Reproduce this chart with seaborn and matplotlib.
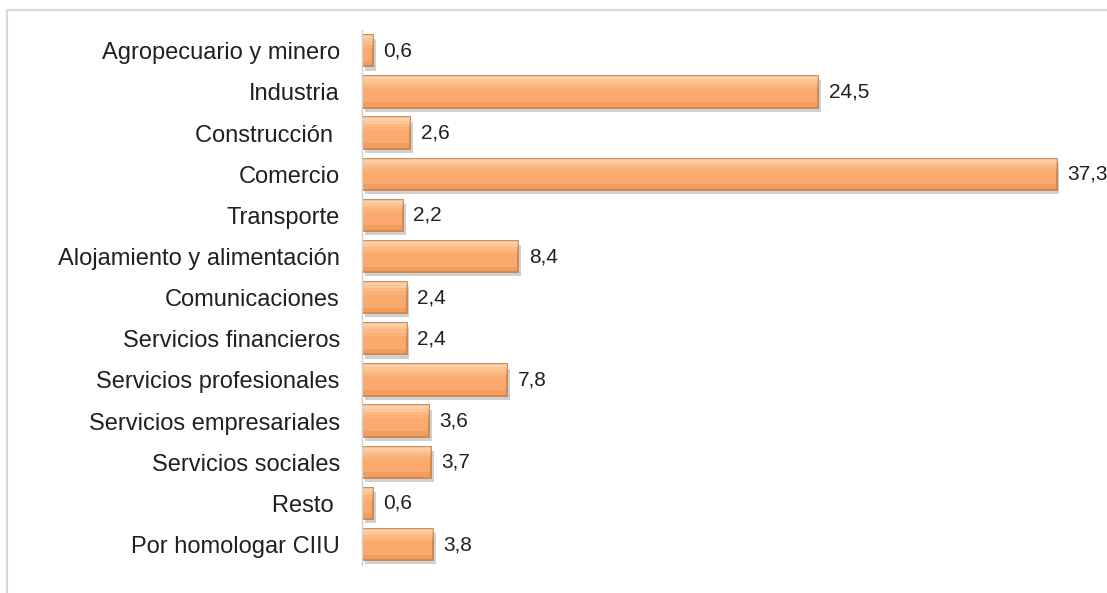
import matplotlib
matplotlib.use('Agg')
import matplotlib.pyplot as plt
import matplotlib.patheffects as pe
from matplotlib.patches import Rectangle
import seaborn as sns
import pandas as pd

# Datos
sectores = ['Agropecuario y minero', 'Industria', 'Construcción ', 'Comercio', 'Transporte',
            'Alojamiento y alimentación', 'Comunicaciones', 'Servicios financieros',
            'Servicios profesionales', 'Servicios empresariales', 'Servicios sociales',
            'Resto ', 'Por homologar CIIU']
valores = [0.6, 24.5, 2.6, 37.3, 2.2, 8.4, 2.4, 2.4, 7.8, 3.6, 3.7, 0.6, 3.8]

df = pd.DataFrame({'sector': sectores, 'valor': valores})

sns.set_style('white')
plt.rcParams['font.family'] = ['Liberation Sans', 'DejaVu Sans']

fig = plt.figure(figsize=(11.07, 5.93), dpi=100)
ax = fig.add_axes([0.327, 0.047, 0.673, 0.902])

sns.barplot(data=df, x='valor', y='sector', orient='h', color='#FBA96C',
            saturation=1, width=0.76, edgecolor='#C98550', linewidth=1.3, ax=ax)

# sombra suave + brillo degradado tipo Excel
for p in list(ax.patches):
    p.set_path_effects([pe.SimplePatchShadow(offset=(2, -3), shadow_rgbFace='#8a8a8a', alpha=0.4),
                        pe.Normal()])
    x0, y0 = p.get_x(), p.get_y()
    w, h = p.get_width(), p.get_height()
    z = p.get_zorder() + 0.1
    # bandas superiores más claras (degradado)
    for k, a in enumerate([0.7, 0.5, 0.3, 0.15]):
        ax.add_patch(Rectangle((x0, y0 + k * h * 0.1), w, h * 0.1, facecolor='#FFE0BE',
                               edgecolor='none', alpha=a, zorder=z))
    # banda inferior más oscura
    ax.add_patch(Rectangle((x0, y0 + h * 0.82), w, h * 0.18, facecolor='#E0894A',
                           edgecolor='none', alpha=0.35, zorder=z))

for i, v in enumerate(valores):
    ax.text(v + 0.55, i, f'{v:.1f}'.replace('.', ','), va='center', ha='left',
            fontsize=15, color='#202020')

ax.set_xlim(0, 40)
ax.set_ylim(12.5, -0.5)
ax.set_xlabel('')
ax.set_ylabel('')
ax.set_xticks([])
ax.tick_params(axis='y', length=0, pad=16, labelsize=17, labelcolor='#202020')
for s in ['top', 'right', 'bottom']:
    ax.spines[s].set_visible(False)
ax.spines['left'].set_color('#d0d0d0')
ax.spines['left'].set_linewidth(1)

# marco exterior del gráfico
fig.add_artist(plt.Line2D([7 / 1107, 7 / 1107], [0, 1 - 10 / 593], transform=fig.transFigure,
                          color='#d9d9d9', linewidth=1.5))
fig.add_artist(plt.Line2D([7 / 1107, 1], [1 - 10 / 593, 1 - 10 / 593], transform=fig.transFigure,
                          color='#d9d9d9', linewidth=1.5))

fig.savefig('out.png', dpi=100)
